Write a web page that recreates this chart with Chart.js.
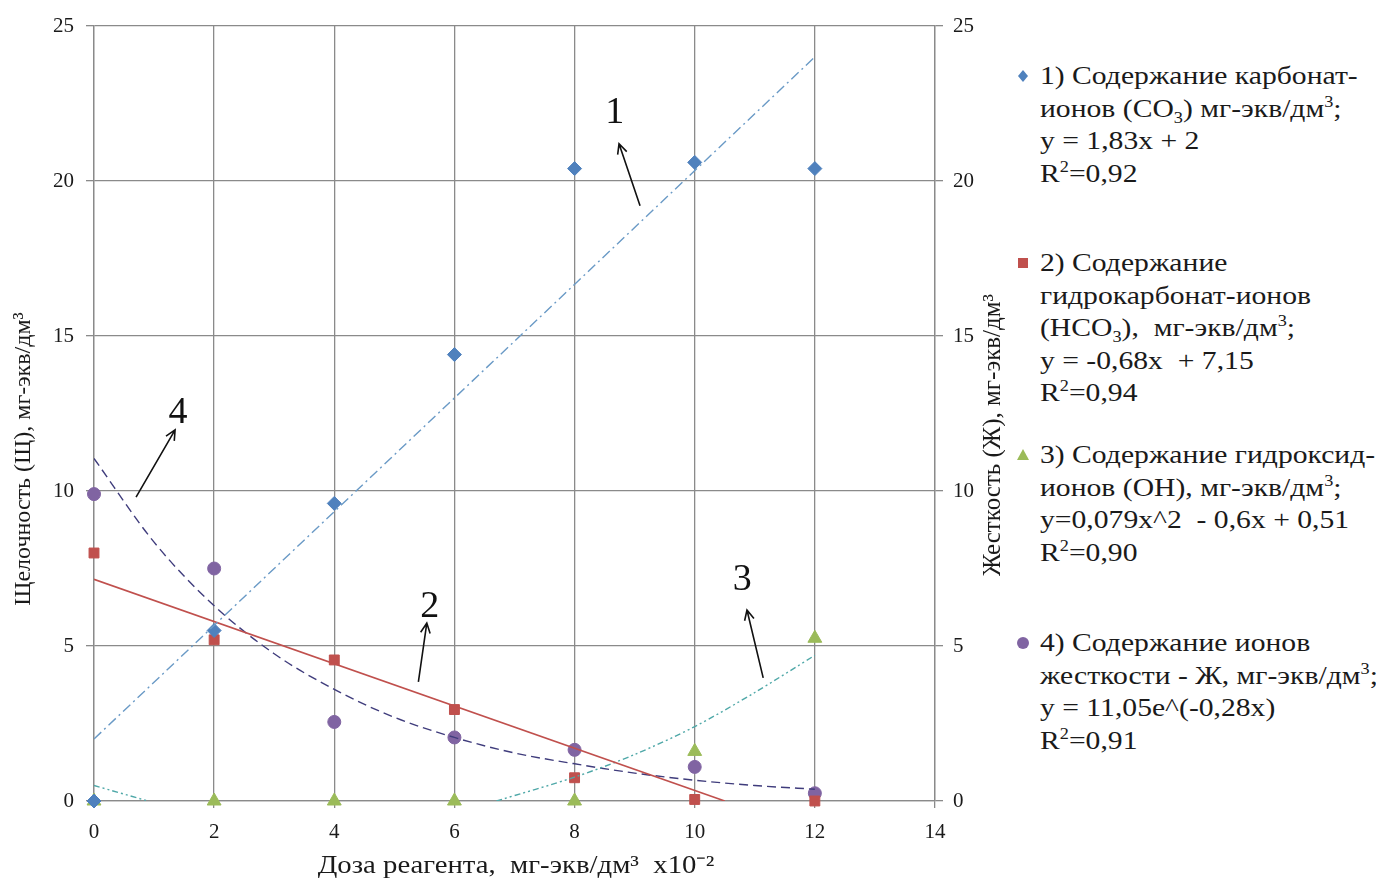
<!DOCTYPE html>
<html lang="ru">
<head>
    <meta charset="UTF-8">
    <title>Доза реагента</title>
    <script src="https://cdn.jsdelivr.net/npm/chart.js"></script>
    <style>
        body {
            margin: 0;
            background: #fff;
            font-family: 'Liberation Serif', 'Times New Roman', serif;
            width: 1376px;
            height: 884px;
            overflow: hidden;
            position: relative;
        }

        .chart-box {
            position: absolute;
            left: 0;
            top: 0;
            width: 1005px;
            height: 884px;
        }

        .legend-item {
            position: absolute;
            left: 1016px;
            font-size: 26px;
            line-height: 32.5px;
            color: #1a1a1a;
            white-space: nowrap;
        }

        .legend-item .mark {
            position: absolute;
            left: 0;
            top: 9px;
        }

        .legend-item .txt {
            margin-left: 24px;
            transform: scaleX(1.14);
            transform-origin: left top;
        }

        sub, sup {
            font-size: 16px;
            line-height: 0;
        }
    </style>
</head>
<body>
    <div class="chart-box">
        <canvas id="reagentChart" width="1005" height="884"></canvas>
    </div>

    <div class="legend-item" style="top:60px">
        <svg class="mark" width="14" height="14"><polygon points="7,1 12,7 7,13 2,7" fill="#4f81bd"/></svg>
        <div class="txt">1) Содержание карбонат-<br>ионов (CO<sub>3</sub>) мг-экв/дм<sup>3</sup>;<br>y = 1,83x + 2<br>R<sup>2</sup>=0,92</div>
    </div>
    <div class="legend-item" style="top:247px">
        <svg class="mark" width="14" height="14"><rect x="2" y="2" width="10" height="10" fill="#c0504d"/></svg>
        <div class="txt">2) Содержание<br>гидрокарбонат-ионов<br>(HCO<sub>3</sub>),&nbsp; мг-экв/дм<sup>3</sup>;<br>y = -0,68x&nbsp; + 7,15<br>R<sup>2</sup>=0,94</div>
    </div>
    <div class="legend-item" style="top:439px">
        <svg class="mark" width="14" height="14"><polygon points="7,1 13,12 1,12" fill="#9bbb59"/></svg>
        <div class="txt">3) Содержание гидроксид-<br>ионов (OH), мг-экв/дм<sup>3</sup>;<br>y=0,079x^2&nbsp; - 0,6x + 0,51<br>R<sup>2</sup>=0,90</div>
    </div>
    <div class="legend-item" style="top:627px">
        <svg class="mark" width="14" height="14"><circle cx="7" cy="7" r="6" fill="#8064a2"/></svg>
        <div class="txt">4) Содержание ионов<br>жесткости - Ж, мг-экв/дм<sup>3</sup>;<br>y = 11,05e^(-0,28x)<br>R<sup>2</sup>=0,91</div>
    </div>

    <script>
        // measured points
        const doses = [0, 2, 4, 6, 8, 10, 12];
        const carbonate = [0, 5.5, 9.6, 14.4, 20.4, 20.6, 20.4];
        const bicarbonate = [8.0, 5.2, 4.55, 2.95, 0.75, 0.05, 0];
        const hydroxide = [0, 0, 0, 0, 0, 1.6, 5.25];
        const hardness = [9.9, 7.5, 2.55, 2.05, 1.65, 1.1, 0.25];

        // trend lines (null = hidden below axis)
        const trend1X = [0, 12];
        const trend1Y = [2, 24];
        const trend2X = [0, 10.5];
        const trend2Y = [7.15, 0];
        const trend3X = [0, 0.9, 3, 6.7, 8, 9, 10, 11, 12];
        const trend3Y = [0.5, 0, null, 0, 0.77, 1.5, 2.4, 3.5, 4.7];
        const trend4X = [0, 1, 2, 3, 4, 5, 6, 7, 8, 9, 10, 11, 12];
        const trend4Y = [11.05, 8.35, 6.3, 4.75, 3.6, 2.7, 2.05, 1.55, 1.2, 0.9, 0.67, 0.5, 0.38];

        const xTicks = [0, 2, 4, 6, 8, 10, 12, 14];
        const yTicks = [0, 5, 10, 15, 20, 25];

        // curve numbers with arrows: label pos, arrow tail, arrow tip
        const markLabels = ['1', '2', '3', '4'];
        const markPos = [[8.67, 22.2], [5.59, 6.26], [10.79, 7.13], [1.40, 12.5]];
        const arrowFrom = [[9.09, 19.2], [5.40, 3.84], [11.14, 3.97], [0.70, 9.8]];
        const arrowTo = [[8.74, 21.2], [5.54, 5.74], [10.87, 6.16], [1.35, 11.97]];

        const pts = (xs, ys) => xs.map((x, i) => ({ x: x, y: ys[i] }));

        const GRID = '#8a8a8a';
        const FONT = "'Liberation Serif', 'Times New Roman', serif";

        const overlay = {
            id: 'overlay',
            afterDraw(chart) {
                const ctx = chart.ctx;
                const sx = chart.scales.x;
                const sy = chart.scales.y;
                ctx.save();
                ctx.fillStyle = '#111';
                ctx.strokeStyle = '#111';
                ctx.lineWidth = 1.6;
                ctx.font = '38px ' + FONT;
                ctx.textAlign = 'center';
                ctx.textBaseline = 'middle';
                markLabels.forEach((t, i) => {
                    ctx.fillText(t, sx.getPixelForValue(markPos[i][0]), sy.getPixelForValue(markPos[i][1]));
                    const x1 = sx.getPixelForValue(arrowFrom[i][0]);
                    const y1 = sy.getPixelForValue(arrowFrom[i][1]);
                    const x2 = sx.getPixelForValue(arrowTo[i][0]);
                    const y2 = sy.getPixelForValue(arrowTo[i][1]);
                    ctx.beginPath();
                    ctx.moveTo(x1, y1);
                    ctx.lineTo(x2, y2);
                    const a = Math.atan2(y2 - y1, x2 - x1);
                    ctx.moveTo(x2 - 11 * Math.cos(a - 0.45), y2 - 11 * Math.sin(a - 0.45));
                    ctx.lineTo(x2, y2);
                    ctx.lineTo(x2 - 11 * Math.cos(a + 0.45), y2 - 11 * Math.sin(a + 0.45));
                    ctx.stroke();
                });

                // axis titles
                ctx.fillStyle = '#1a1a1a';
                ctx.textAlign = 'center';
                ctx.textBaseline = 'middle';

                ctx.save();
                ctx.font = '25px ' + FONT;
                ctx.translate(516, 866);
                ctx.scale(1.15, 1);
                ctx.fillText('Доза реагента,  мг-экв/дм³  x10⁻²', 0, 0);
                ctx.restore();

                ctx.save();
                ctx.font = '24px ' + FONT;
                ctx.translate(24, 459);
                ctx.rotate(-Math.PI / 2);
                ctx.fillText('Щелочность (Щ), мг-экв/дм³', 0, 0);
                ctx.restore();

                ctx.save();
                ctx.font = '25px ' + FONT;
                ctx.translate(993, 435);
                ctx.rotate(-Math.PI / 2);
                ctx.fillText('Жесткость (Ж), мг-экв/дм³', 0, 0);
                ctx.restore();

                ctx.restore();
            }
        };

        const tickFont = { family: FONT, size: 21 };

        const ctx = document.getElementById('reagentChart').getContext('2d');
        new Chart(ctx, {
            type: 'scatter',
            data: {
                datasets: [
                    {
                        label: 'trend 1',
                        data: pts(trend1X, trend1Y),
                        showLine: true,
                        borderColor: '#6a9ac6',
                        borderWidth: 1.4,
                        borderDash: [10, 4, 2, 4],
                        pointRadius: 0
                    },
                    {
                        label: 'trend 2',
                        data: pts(trend2X, trend2Y),
                        showLine: true,
                        borderColor: '#c0504d',
                        borderWidth: 1.6,
                        pointRadius: 0
                    },
                    {
                        label: 'trend 3',
                        data: pts(trend3X, trend3Y),
                        showLine: true,
                        spanGaps: false,
                        borderColor: '#4fa8a8',
                        borderWidth: 1.4,
                        borderDash: [6, 3, 2, 3, 2, 3],
                        tension: 0.3,
                        pointRadius: 0
                    },
                    {
                        label: 'trend 4',
                        data: pts(trend4X, trend4Y),
                        showLine: true,
                        borderColor: '#3f3c7c',
                        borderWidth: 1.4,
                        borderDash: [9, 5],
                        cubicInterpolationMode: 'monotone',
                        pointRadius: 0,
                        yAxisID: 'y2'
                    },
                    {
                        label: '1) Содержание карбонат-ионов',
                        data: pts(doses, carbonate),
                        clip: false,
                        pointStyle: 'rectRot',
                        pointRadius: 7,
                        backgroundColor: '#4f81bd',
                        borderColor: '#4f81bd'
                    },
                    {
                        label: '2) Содержание гидрокарбонат-ионов',
                        data: pts(doses, bicarbonate),
                        clip: false,
                        pointStyle: 'rect',
                        pointRadius: 7,
                        backgroundColor: '#c0504d',
                        borderColor: '#c0504d'
                    },
                    {
                        label: '3) Содержание гидроксид-ионов',
                        data: pts(doses, hydroxide),
                        clip: false,
                        pointStyle: 'triangle',
                        pointRadius: 8,
                        backgroundColor: '#9bbb59',
                        borderColor: '#9bbb59'
                    },
                    {
                        label: '4) Содержание ионов жесткости',
                        data: pts(doses, hardness),
                        clip: false,
                        pointStyle: 'circle',
                        pointRadius: 6.5,
                        backgroundColor: '#8064a2',
                        borderColor: '#8064a2',
                        yAxisID: 'y2'
                    }
                ]
            },
            options: {
                responsive: false,
                animation: false,
                layout: { padding: { top: 26, left: 0, right: 0, bottom: 0 } },
                plugins: {
                    legend: { display: false },
                    tooltip: { enabled: false }
                },
                scales: {
                    x: {
                        type: 'linear',
                        min: 0,
                        max: 14,
                        afterBuildTicks: s => { s.ticks = xTicks.map(v => ({ value: v })); },
                        afterFit: s => { s.height = 83; },
                        ticks: { font: tickFont, color: '#1a1a1a', padding: 12 },
                        grid: { color: GRID, lineWidth: 1.3, tickLength: 7 },
                        border: { color: GRID, width: 1.3 }
                    },
                    y: {
                        position: 'left',
                        min: 0,
                        max: 25,
                        afterBuildTicks: s => { s.ticks = yTicks.map(v => ({ value: v })); },
                        afterFit: s => { s.width = 94; },
                        ticks: { font: tickFont, color: '#1a1a1a', padding: 12 },
                        grid: { color: GRID, lineWidth: 1.3, tickLength: 8 },
                        border: { color: GRID, width: 1.3 }
                    },
                    y2: {
                        position: 'right',
                        min: 0,
                        max: 25,
                        afterBuildTicks: s => { s.ticks = yTicks.map(v => ({ value: v })); },
                        afterFit: s => { s.width = 70; },
                        ticks: { font: tickFont, color: '#1a1a1a', padding: 10 },
                        grid: { drawOnChartArea: false, color: GRID, lineWidth: 1.3, tickLength: 8 },
                        border: { color: GRID, width: 1.3 }
                    }
                }
            },
            plugins: [overlay]
        });
    </script>
</body>
</html>
